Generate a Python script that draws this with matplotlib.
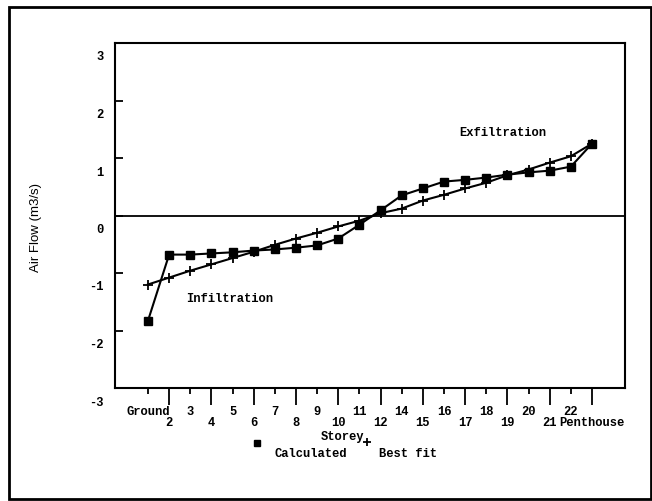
import matplotlib
matplotlib.use("Agg")
import matplotlib.pyplot as plt
from matplotlib.transforms import ScaledTranslation
from matplotlib.patches import Rectangle
from matplotlib.lines import Line2D

storeys = ["Ground", "2", "3", "4", "5", "6", "7", "8", "9", "10", "11", "12",
           "14", "15", "16", "17", "18", "19", "20", "21", "22", "Penthouse"]
calculated = [-1.83, -0.68, -0.68, -0.66, -0.64, -0.61, -0.59, -0.56, -0.52, -0.40, -0.16, 0.09,
              0.35, 0.47, 0.59, 0.62, 0.66, 0.71, 0.75, 0.78, 0.85, 1.25]
best_fit = [-1.20, -1.08, -0.96, -0.85, -0.74, -0.63, -0.51, -0.40, -0.30, -0.19, -0.09, 0.04,
            0.12, 0.26, 0.36, 0.47, 0.57, 0.70, 0.80, 0.92, 1.03, 1.25]
y_ticks = [-3, -2, -1, 0, 1, 2, 3]
y_tick_labels = ["-3", "-2", "-1", "0", "1", "2", "3"]

W, H = 652, 501
fig = plt.figure(figsize=(W / 100, H / 100), dpi=100)
ax = fig.add_axes([115 / W, (H - 388) / H, 510 / W, 345 / H])

bold_font = dict(family="Liberation Mono", weight="bold", size=8.7)

x = list(range(len(storeys)))
ax.plot(x, calculated, color="black", lw=1.5, marker="s", ms=5.5)
ax.plot(x, best_fit, color="black", lw=1.5, marker="+", ms=7, mew=1.3)
ax.axhline(0, color="black", lw=1.3)

ax.set_xlim(-1.56, 22.56)
ax.set_ylim(-3, 3)

for s in ax.spines.values():
    s.set_linewidth(1.5)

# y axis
ax.set_yticks(y_ticks)
ax.set_yticklabels(y_tick_labels, fontdict=bold_font)
ax.tick_params(axis="y", direction="in", length=6, width=1.3, pad=8)
for lab in ax.get_yticklabels():
    lab.set_transform(lab.get_transform() + ScaledTranslation(0, -13 / 100, fig.dpi_scale_trans))

# x axis: long ticks on odd indices, short ticks on even ones
major_idx = [i for i in x if i % 2 == 1]
minor_idx = [i for i in x if i % 2 == 0]
ax.set_xticks(major_idx)
ax.set_xticklabels([storeys[i] for i in major_idx], fontdict=bold_font)
ax.set_xticks(minor_idx, minor=True)
ax.set_xticklabels([storeys[i] for i in minor_idx], minor=True, fontdict=bold_font)
ax.tick_params(axis="x", which="major", direction="out", length=12, width=1.3, pad=9)
ax.tick_params(axis="x", which="minor", direction="out", length=4, width=1.3, pad=9)

ax.text(16.8, 1.44, "Exfiltration", ha="center", va="center", **bold_font)
ax.text(3.88, -1.46, "Infiltration", ha="center", va="center", **bold_font)

# axis label
fig.text(36 / W, 1 - 227 / H, "Air Flow (m3/s)", rotation=90, ha="center", va="center",
         family="Liberation Sans", size=9.5)
fig.text(343 / W, 1 - 437 / H, "Storey", ha="center", va="center", **bold_font)

# legend
fig.add_artist(Line2D([257 / W], [1 - 443 / H], marker="s", ms=4.5, color="black", lw=0,
                      transform=fig.transFigure))
fig.add_artist(Line2D([367 / W], [1 - 442 / H], marker="+", ms=6, mew=1.3, color="black", lw=0,
                      transform=fig.transFigure))
fig.text(311 / W, 1 - 454 / H, "Calculated", ha="center", va="center", **bold_font)
fig.text(408 / W, 1 - 454 / H, "Best fit", ha="center", va="center", **bold_font)

# outer frame
fig.add_artist(Rectangle((9 / W, 2 / H), 642 / W, 492 / H, fill=False, lw=2,
                         edgecolor="black", transform=fig.transFigure))

fig.savefig("out.png", dpi=100)
